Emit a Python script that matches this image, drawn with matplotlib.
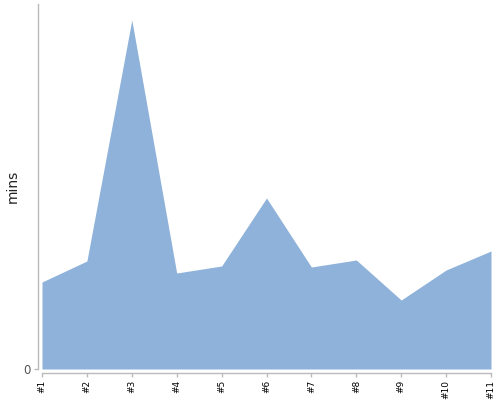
import matplotlib
matplotlib.use("Agg")
import matplotlib.pyplot as plt

categories = ["#1", "#2", "#3", "#4", "#5", "#6", "#7", "#8", "#9", "#10", "#11"]
mins = [87, 108, 349, 96, 103, 171, 102, 109, 69, 99, 118]

fig = plt.figure(figsize=(5, 4), dpi=100)
ax = fig.add_axes([0.084, 0.0775, 0.898, 0.9125])
x = list(range(len(categories)))
ax.fill_between(x, 0, mins, color="#8fb2db", linewidth=0)
ax.set_xlim(0, len(categories) - 1)
ax.set_ylim(0, 365)
for s in ["top", "right"]:
    ax.spines[s].set_visible(False)
for s in ["left", "bottom"]:
    ax.spines[s].set_color("#bbbbbb")
    ax.spines[s].set_linewidth(1)
    ax.spines[s].set_position(("outward", 3))
ax.tick_params(axis="both", colors="#bbbbbb", length=3, width=1, pad=2)
ax.set_xticks(x)
ax.set_xticklabels(categories, fontsize=6.5)
ax.tick_params(axis="x", labelrotation=90, labelcolor="#000000")
ax.set_yticks([0])
ax.set_yticklabels(["0"], fontsize=8.5)
ax.tick_params(axis="y", labelcolor="#555555")
ax.set_ylabel("mins", fontsize=10, color="#222222")
ax.yaxis.set_label_coords(-0.05, 0.5)
fig.savefig("out.png", dpi=100)
